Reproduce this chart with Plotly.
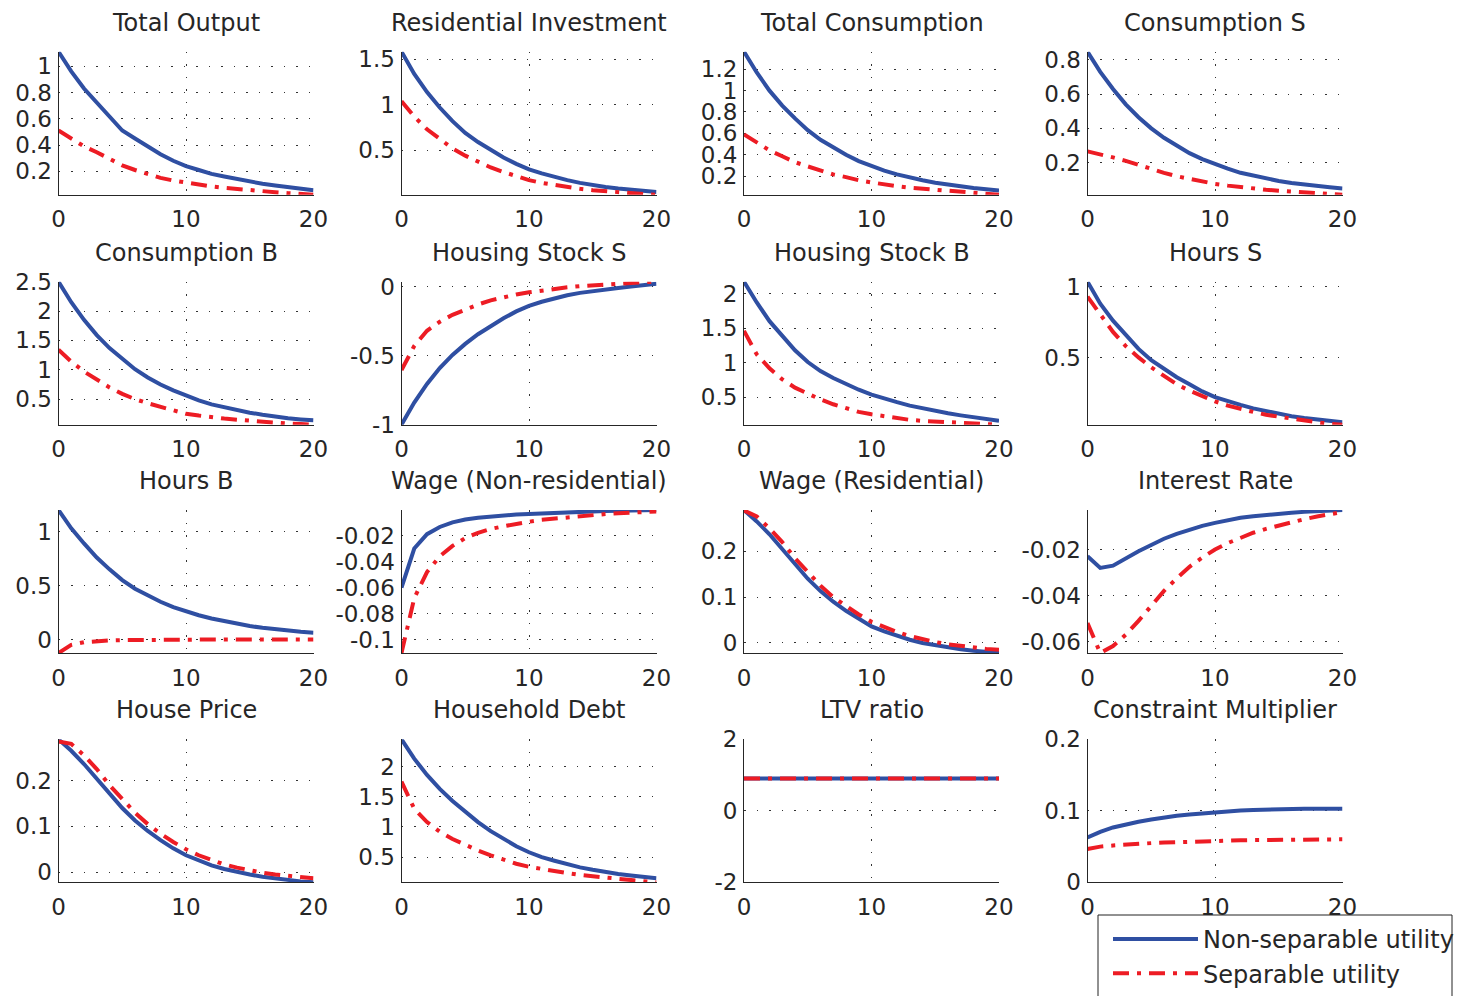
import plotly.graph_objects as go

# ---------------- data ----------------
periods = list(range(21))
x_ticks = [0, 10, 20]

titles = ["Total Output", "Residential Investment", "Total Consumption", "Consumption S",
          "Consumption B", "Housing Stock S", "Housing Stock B", "Hours S",
          "Hours B", "Wage (Non-residential)", "Wage (Residential)", "Interest Rate",
          "House Price", "Household Debt", "LTV ratio", "Constraint Multiplier"]

series_names = ["Non-separable utility", "Separable utility"]

total_output_nonsep = [1.11, 0.96, 0.83, 0.72, 0.61, 0.51, 0.45, 0.39, 0.33, 0.28, 0.24, 0.21, 0.18, 0.16, 0.14, 0.12, 0.105, 0.092, 0.08, 0.068, 0.056]
total_output_sep = [0.51, 0.45, 0.39, 0.345, 0.295, 0.245, 0.21, 0.18, 0.15, 0.13, 0.113, 0.098, 0.085, 0.074, 0.064, 0.055, 0.048, 0.041, 0.034, 0.028, 0.022]

res_inv_nonsep = [1.585, 1.34, 1.14, 0.97, 0.82, 0.69, 0.59, 0.50, 0.42, 0.35, 0.29, 0.245, 0.205, 0.17, 0.14, 0.115, 0.095, 0.078, 0.062, 0.05, 0.04]
res_inv_sep = [1.04, 0.87, 0.73, 0.62, 0.52, 0.44, 0.37, 0.31, 0.26, 0.21, 0.17, 0.14, 0.115, 0.095, 0.075, 0.06, 0.047, 0.036, 0.026, 0.017, 0.01]

total_cons_nonsep = [1.365, 1.17, 1.00, 0.86, 0.74, 0.63, 0.54, 0.465, 0.40, 0.34, 0.293, 0.25, 0.215, 0.185, 0.16, 0.137, 0.118, 0.10, 0.087, 0.075, 0.065]
total_cons_sep = [0.59, 0.51, 0.44, 0.385, 0.33, 0.29, 0.25, 0.215, 0.19, 0.16, 0.14, 0.12, 0.105, 0.09, 0.08, 0.07, 0.06, 0.05, 0.04, 0.032, 0.025]

cons_s_nonsep = [0.848, 0.73, 0.63, 0.54, 0.465, 0.40, 0.345, 0.30, 0.255, 0.22, 0.19, 0.165, 0.14, 0.122, 0.105, 0.092, 0.08, 0.07, 0.062, 0.055, 0.048]
cons_s_sep = [0.265, 0.25, 0.23, 0.21, 0.185, 0.16, 0.14, 0.12, 0.104, 0.088, 0.075, 0.065, 0.056, 0.048, 0.041, 0.035, 0.03, 0.025, 0.02, 0.016, 0.012]

cons_b_nonsep = [2.5, 2.15, 1.85, 1.59, 1.37, 1.18, 1.01, 0.87, 0.75, 0.65, 0.56, 0.48, 0.41, 0.36, 0.31, 0.27, 0.235, 0.2, 0.175, 0.155, 0.14]
cons_b_sep = [1.34, 1.14, 0.97, 0.83, 0.70, 0.59, 0.50, 0.43, 0.37, 0.31, 0.25, 0.22, 0.19, 0.17, 0.15, 0.13, 0.115, 0.1, 0.085, 0.075, 0.065]

house_s_nonsep = [-1.0, -0.84, -0.705, -0.59, -0.495, -0.415, -0.345, -0.285, -0.23, -0.18, -0.14, -0.11, -0.085, -0.063, -0.046, -0.032, -0.02, -0.01, 0.0, 0.01, 0.02]
house_s_sep = [-0.605, -0.43, -0.32, -0.255, -0.205, -0.165, -0.13, -0.1, -0.078, -0.058, -0.042, -0.028, -0.016, -0.006, 0.003, 0.01, 0.017, 0.022, 0.027, 0.031, 0.035]

house_b_nonsep = [2.17, 1.87, 1.6, 1.38, 1.18, 1.01, 0.88, 0.78, 0.69, 0.61, 0.54, 0.48, 0.43, 0.38, 0.34, 0.30, 0.27, 0.24, 0.21, 0.185, 0.16]
house_b_sep = [1.46, 1.12, 0.92, 0.76, 0.64, 0.55, 0.47, 0.4, 0.34, 0.29, 0.255, 0.225, 0.2, 0.175, 0.16, 0.15, 0.14, 0.13, 0.12, 0.11, 0.105]

hours_s_nonsep = [1.035, 0.88, 0.76, 0.66, 0.56, 0.48, 0.42, 0.36, 0.31, 0.26, 0.22, 0.19, 0.165, 0.14, 0.12, 0.1, 0.085, 0.072, 0.06, 0.05, 0.042]
hours_s_sep = [0.93, 0.8, 0.68, 0.58, 0.5, 0.43, 0.37, 0.31, 0.265, 0.225, 0.19, 0.16, 0.135, 0.115, 0.095, 0.08, 0.065, 0.052, 0.042, 0.032, 0.025]

hours_b_nonsep = [1.2, 1.03, 0.89, 0.76, 0.65, 0.55, 0.47, 0.405, 0.35, 0.3, 0.26, 0.225, 0.195, 0.17, 0.145, 0.125, 0.108, 0.094, 0.082, 0.071, 0.062]
hours_b_sep = [-0.125, -0.05, -0.025, -0.014, -0.009, -0.006, -0.004, -0.003, -0.002, -0.001, 0.0, 0.0, 0.0, 0.0, 0.0, 0.0, 0.0, 0.0, 0.0, 0.0, 0.0]

wage_nr_nonsep = [-0.06, -0.03, -0.019, -0.0135, -0.01, -0.0078, -0.0064, -0.0054, -0.0046, -0.004, -0.0035, -0.003, -0.0026, -0.0022, -0.0019, -0.0016, -0.0013, -0.0011, -0.0009, -0.0007, -0.0005]
wage_nr_sep = [-0.11, -0.068, -0.048, -0.036, -0.028, -0.022, -0.018, -0.015, -0.013, -0.011, -0.0095, -0.008, -0.007, -0.006, -0.005, -0.0043, -0.0036, -0.003, -0.0025, -0.002, -0.0016]

wage_r_nonsep = [0.29, 0.265, 0.237, 0.205, 0.17, 0.14, 0.113, 0.09, 0.07, 0.052, 0.036, 0.025, 0.015, 0.007, 0.0, -0.005, -0.01, -0.014, -0.017, -0.02, -0.022]
wage_r_sep = [0.289, 0.276, 0.25, 0.22, 0.185, 0.155, 0.125, 0.1, 0.08, 0.062, 0.046, 0.034, 0.024, 0.015, 0.008, 0.002, -0.003, -0.007, -0.01, -0.013, -0.015]

interest_nonsep = [-0.0229, -0.028, -0.027, -0.0238, -0.0207, -0.018, -0.0153, -0.0132, -0.0113, -0.0097, -0.0084, -0.0072, -0.0062, -0.0055, -0.0049, -0.0044, -0.004, -0.0036, -0.0033, -0.003, -0.0028]
interest_sep = [-0.052, -0.065, -0.062, -0.057, -0.051, -0.0445, -0.038, -0.0325, -0.0275, -0.0235, -0.02, -0.0172, -0.0148, -0.0127, -0.011, -0.0095, -0.0082, -0.0068, -0.0056, -0.0046, -0.0037]

house_price_nonsep = [0.29, 0.265, 0.236, 0.204, 0.17, 0.14, 0.113, 0.09, 0.07, 0.052, 0.037, 0.025, 0.015, 0.007, 0.0, -0.005, -0.01, -0.014, -0.017, -0.02, -0.022]
house_price_sep = [0.285, 0.28, 0.255, 0.225, 0.19, 0.16, 0.13, 0.105, 0.084, 0.066, 0.05, 0.037, 0.026, 0.017, 0.01, 0.004, -0.001, -0.005, -0.008, -0.011, -0.013]

debt_nonsep = [2.45, 2.13, 1.86, 1.63, 1.43, 1.25, 1.08, 0.93, 0.8, 0.68, 0.58, 0.5, 0.44, 0.38, 0.33, 0.29, 0.25, 0.22, 0.195, 0.17, 0.15]
debt_sep = [1.75, 1.3, 1.08, 0.92, 0.8, 0.7, 0.61, 0.53, 0.46, 0.39, 0.34, 0.3, 0.265, 0.235, 0.205, 0.18, 0.16, 0.14, 0.12, 0.1, 0.083]

ltv_nonsep = [0.9, 0.9, 0.9, 0.9, 0.9, 0.9, 0.9, 0.9, 0.9, 0.9, 0.9, 0.9, 0.9, 0.9, 0.9, 0.9, 0.9, 0.9, 0.9, 0.9, 0.9]
ltv_sep = [0.9, 0.9, 0.9, 0.9, 0.9, 0.9, 0.9, 0.9, 0.9, 0.9, 0.9, 0.9, 0.9, 0.9, 0.9, 0.9, 0.9, 0.9, 0.9, 0.9, 0.9]

multiplier_nonsep = [0.0627, 0.0706, 0.0767, 0.081, 0.0846, 0.0878, 0.0907, 0.093, 0.0949, 0.0966, 0.0981, 0.0994, 0.1005, 0.1012, 0.1018, 0.1023, 0.1025, 0.1027, 0.1028, 0.1028, 0.1028]
multiplier_sep = [0.0466, 0.0499, 0.0515, 0.053, 0.054, 0.0548, 0.0556, 0.0563, 0.0569, 0.0575, 0.058, 0.0584, 0.0587, 0.059, 0.0593, 0.0595, 0.0597, 0.0598, 0.0599, 0.06, 0.0601]

nonsep_series = [total_output_nonsep, res_inv_nonsep, total_cons_nonsep, cons_s_nonsep,
                 cons_b_nonsep, house_s_nonsep, house_b_nonsep, hours_s_nonsep,
                 hours_b_nonsep, wage_nr_nonsep, wage_r_nonsep, interest_nonsep,
                 house_price_nonsep, debt_nonsep, ltv_nonsep, multiplier_nonsep]
sep_series = [total_output_sep, res_inv_sep, total_cons_sep, cons_s_sep,
              cons_b_sep, house_s_sep, house_b_sep, hours_s_sep,
              hours_b_sep, wage_nr_sep, wage_r_sep, interest_sep,
              house_price_sep, debt_sep, ltv_sep, multiplier_sep]

y_tickvals = [[0.2, 0.4, 0.6, 0.8, 1], [0.5, 1, 1.5], [0.2, 0.4, 0.6, 0.8, 1, 1.2], [0.2, 0.4, 0.6, 0.8],
              [0.5, 1, 1.5, 2, 2.5], [-1, -0.5, 0], [0.5, 1, 1.5, 2], [0.5, 1],
              [0, 0.5, 1], [-0.1, -0.08, -0.06, -0.04, -0.02], [0, 0.1, 0.2], [-0.06, -0.04, -0.02],
              [0, 0.1, 0.2], [0.5, 1, 1.5, 2], [-2, 0, 2], [0, 0.1, 0.2]]

# fixed axis limits (others are tight to the data)
fixed_ranges = {14: [-2, 2], 15: [0, 0.2]}

# ---------------- style / layout ----------------
W, H = 1459, 996
BLUE = "#2F4FA2"
RED = "#ED1C24"
TXT = "#262626"
FONT = "DejaVu Sans"
col_left = [58.5, 401.5, 744.0, 1087.5]
col_w = 255.0
row_top = [51.7, 281.7, 510.0, 739.3]
row_h = 143.0


def fmt(v):
    return "%g" % v


fig = go.Figure()
layout = dict(
    width=W, height=H, margin=dict(l=0, r=0, t=0, b=0, autoexpand=False),
    paper_bgcolor="white", plot_bgcolor="white",
    font=dict(family=FONT, size=23, color=TXT),
    showlegend=True,
    legend=dict(x=1108 / W, y=1 - 917 / H, xanchor="left", yanchor="top",
                borderwidth=0, bgcolor="rgba(0,0,0,0)",
                font=dict(family=FONT, size=24, color=TXT),
                itemwidth=85, tracegroupgap=5, traceorder="normal"),
    annotations=[],
    shapes=[dict(type="rect", xref="paper", yref="paper",
                 x0=1098 / W, x1=1452 / W, y0=-0.05, y1=1 - 915 / H,
                 line=dict(color="#222222", width=1), fillcolor="rgba(0,0,0,0)", layer="below")],
)

for i in range(16):
    r, c = divmod(i, 4)
    idx = i + 1
    xs = "" if idx == 1 else str(idx)
    xa, ya = "x" + xs, "y" + xs
    ns, s = nonsep_series[i], sep_series[i]
    fig.add_trace(go.Scatter(x=periods, y=ns, xaxis=xa, yaxis=ya, mode="lines",
                             line=dict(color=BLUE, width=4),
                             name=series_names[0], legendgroup="ns", showlegend=(i == 0)))
    fig.add_trace(go.Scatter(x=periods, y=s, xaxis=xa, yaxis=ya, mode="lines",
                             line=dict(color=RED, width=4, dash="16px,8px,4px,8px"),
                             name=series_names[1], legendgroup="s", showlegend=(i == 0)))
    if i in fixed_ranges:
        yr = fixed_ranges[i]
    else:
        yr = [min(min(ns), min(s)), max(max(ns), max(s))]
    x0 = col_left[c] / W
    x1 = (col_left[c] + col_w) / W
    y1 = 1 - row_top[r] / H
    y0 = 1 - (row_top[r] + row_h) / H
    common = dict(showline=True, linecolor=TXT, linewidth=1, mirror=False,
                  showgrid=True, gridcolor="#333333", gridwidth=1, griddash="1.5px,11px",
                  zeroline=False, ticks="",
                  tickfont=dict(family=FONT, size=23, color=TXT), fixedrange=True)
    layout["xaxis" + xs] = dict(domain=[x0, x1], anchor=ya, range=[0, 20],
                                tickmode="array", tickvals=x_ticks, ticklabelstandoff=4,
                                ticktext=[fmt(v) for v in x_ticks], **common)
    layout["yaxis" + xs] = dict(domain=[y0, y1], anchor=xa, range=yr, ticklabelstandoff=1,
                                tickmode="array", tickvals=y_tickvals[i],
                                ticktext=[fmt(v) for v in y_tickvals[i]], **common)
    layout["annotations"].append(dict(
        text=titles[i], xref=xa + " domain", yref=ya + " domain", x=0.5, y=1,
        xanchor="center", yanchor="middle", yshift=29, showarrow=False,
        font=dict(family=FONT, size=24, color=TXT)))

fig.update_layout(**layout)
fig.write_html("out.html")
